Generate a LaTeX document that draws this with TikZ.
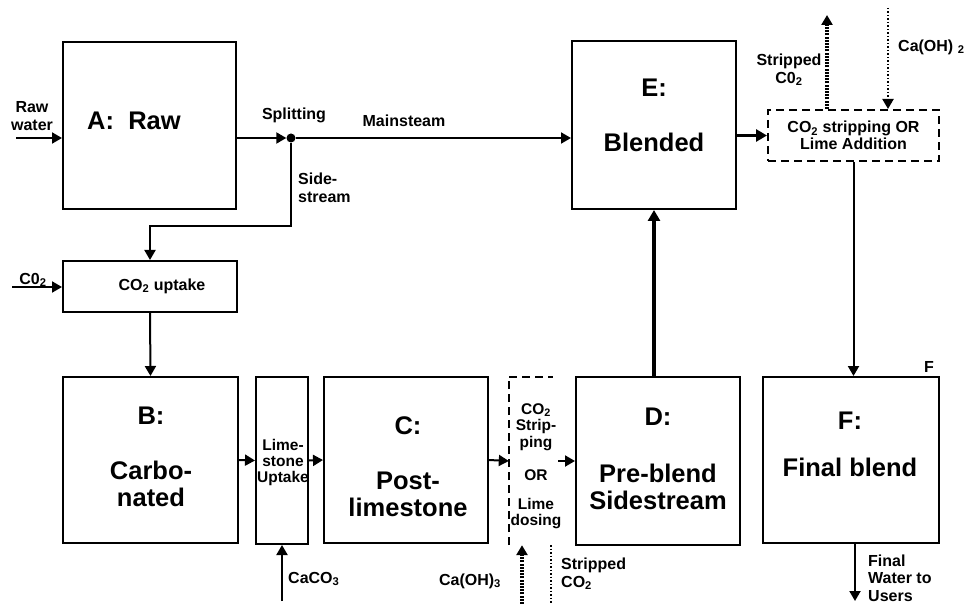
\documentclass[tikz,border=0pt]{standalone}
\usepackage{fontspec}
\setmainfont{Liberation Sans}
\usetikzlibrary{arrows.meta}
\begin{document}
\begin{tikzpicture}[x=1pt,y=-1pt,
  blk/.style={draw,line width=2pt,inner sep=0pt},
  big/.style={font=\bfseries\fontsize{25.5}{27}\selectfont,align=center,inner sep=0pt},
  lbl/.style={font=\bfseries\fontsize{16}{17.5}\selectfont,align=center,inner sep=0pt},
  flow/.style={line width=2pt,-{Triangle[length=10pt,width=11pt]}},
  heavy/.style={line width=3.5pt,-{Triangle[length=11pt,width=12pt]}},
  dashbox/.style={line width=2pt,dash pattern=on 8pt off 5pt},
  dotthick/.style={line width=3.5pt,dash pattern=on 2pt off 1.2pt},
  dotthin/.style={line width=2pt,dash pattern=on 1.5pt off 2pt}]
  \useasboundingbox (0,0) rectangle (964,604);
  % boxes
  \node[blk,minimum width=173pt,minimum height=167pt] (A) at (149.5,125.5) {};
  \node[big] at (134,121) {A:~~Raw};
  \node[blk,minimum width=174pt,minimum height=51pt] (U) at (150,286.5) {};
  \node[lbl] at (162,286) {CO\textsubscript{2} uptake};
  \node[blk,minimum width=175pt,minimum height=166pt] (B) at (150.5,460) {};
  \node[big] at (151,457) {B:\\[28pt]Carbo-\\nated};
  \node[blk,minimum width=52pt,minimum height=167pt] (L) at (282,460.5) {};
  \node[lbl,font=\bfseries\fontsize{15.5}{16}\selectfont] at (283,462) {Lime-\\stone\\Uptake};
  \node[blk,minimum width=164pt,minimum height=166pt] (C) at (406,460) {};
  \node[big] at (408,467) {C:\\[28pt]Post-\\limestone};
  \node[minimum width=49pt,minimum height=168pt,inner sep=0pt] (S) at (533.5,461) {};
  \draw[dashbox] (S.south west) -- (S.north west) -- ([xshift=-5pt]S.north east);
  \node[lbl,font=\bfseries\fontsize{15.5}{16.5}\selectfont] at (536,466)
    {CO\textsubscript{2}\\Strip-\\ping\\[17pt]OR\\[12pt]Lime\\dosing};
  \node[blk,minimum width=164pt,minimum height=168pt] (D) at (658,461) {};
  \node[big] at (658,459) {D:\\[30pt]Pre-blend\\Sidestream};
  \node[blk,minimum width=164pt,minimum height=168pt] (E) at (654,125) {};
  \node[big] at (654,115) {E:\\[28pt]Blended};
  \node[draw,dashbox,lbl,minimum width=171pt,minimum height=51pt] (T) at (853.5,135.5)
    {CO\textsubscript{2} stripping OR\\Lime Addition};
  \node[blk,minimum width=176pt,minimum height=166pt] (F) at (851,460) {};
  \node[big] at (850,444) {F:\\[20pt]Final blend};
  % labels
  \node[lbl] at (32,116) {Raw\\water};
  \node[lbl] at (294,115) {Splitting};
  \node[lbl] at (404,121) {Mainsteam};
  \node[lbl,align=left,anchor=west] at (298,188) {Side-\\stream};
  \node[lbl] at (33,280) {C0\textsubscript{2}};
  \node[lbl,anchor=west] at (288,579) {CaCO\textsubscript{3}};
  \node[lbl] at (470,581) {Ca(OH)\textsubscript{3}};
  \node[lbl,align=left,anchor=west] at (561,574) {Stripped\\CO\textsubscript{2}};
  \node[lbl] at (789,70) {Stripped\\C0\textsubscript{2}};
  \node[lbl,anchor=west] at (898,47) {Ca(OH) \textsubscript{2}};
  \node[lbl] at (929,367) {F};
  \node[lbl,align=left,anchor=west] at (868,578) {Final\\Water to\\Users};
  % connectors
  \coordinate (rw) at (16,138);
  \draw[flow] (rw) -- (rw -| A.west);
  \node[circle,fill,inner sep=0pt,minimum size=9pt] (sp) at (291,138) {};
  \draw[flow] (A.east |- sp) -- (sp.west);
  \draw[flow] (sp) -- (sp -| E.west);
  \coordinate (sbend) at (291,226);
  \draw[flow] (sp) -- (sbend) -| (U.north);
  \coordinate (co2in) at (12,287);
  \draw[flow] (co2in) -- (co2in -| U.west);
  \draw[flow] (U.south) -- (B.north);
  \draw[flow] (B.east) -- (L.west);
  \draw[flow] (L.east) -- (C.west);
  \draw[flow] (C.east) -- (S.west);
  \draw[flow] (S.east) -- (D.west);
  \draw[heavy] (E.south |- D.north) -- (E.south);
  \draw[heavy] (E.east |- T.west) -- (T.west);
  \draw[flow] (T.south) -- (T.south |- F.north);
  \coordinate (out) at (855,601);
  \draw[flow] (out |- F.south) -- (out);
  \coordinate (caco3) at (282,601);
  \draw[flow] (caco3) -- (L.south);
  \coordinate (caoh3) at (522,604);
  \draw[dotthick,-{Triangle[length=10pt,width=11pt]}] (caoh3) -- (caoh3 |- S.south);
  \coordinate (strb) at (551,604);
  \draw[dotthin] (strb |- S.south) -- (strb);
  \coordinate (strt) at (827,15);
  \draw[dotthick,-{Triangle[length=10pt,width=11pt]}] (strt |- T.north) -- (strt);
  \coordinate (caoh2) at (888,8);
  \draw[dotthin,-{Triangle[length=10pt,width=11pt]}] (caoh2) -- (caoh2 |- T.north);
\end{tikzpicture}
\end{document}
